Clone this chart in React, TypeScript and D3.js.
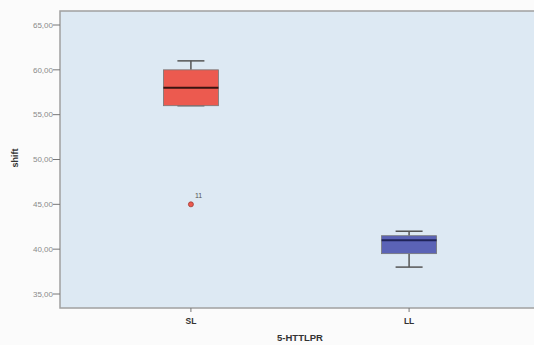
import React from "react";
import * as d3 from "d3";

// Group labels along the x axis
const categories = ["SL", "LL"];
// Box statistics per group: lower whisker, Q1, median, Q3, upper whisker
const whiskerLow = [56, 38];
const q1 = [56, 39.5];
const median = [58, 41];
const q3 = [60, 41.5];
const whiskerHigh = [61, 42];
// Outlying cases: group index, value, case label
const outlierGroup = [0];
const outlierValue = [45];
const outlierLabel = ["11"];
// Y axis tick values
const yTicks = [35, 40, 45, 50, 55, 60, 65];

const boxFill = ["#ec5a4f", "#5b63b6"];
const medianStroke = ["#3a1410", "#1f2358"];

const W = 534;
const H = 345;
const left = 60;
const right = 540;
const top = 11;
const bottom = 308;

export default function App() {
  const x = d3.scalePoint<string>().domain(categories).range([left, right]).padding(0.6);
  const y = d3.scaleLinear().domain([35, 65]).range([294, 25]);
  const boxW = 55;
  const capW = 27;
  const fmt = (v: number) => v.toFixed(2).replace(".", ",");

  return (
    <svg width={W} height={H} style={{ position: "absolute", left: 0, top: 0, background: "#fbfbfb" }}
      fontFamily="Arial, 'Liberation Sans', sans-serif">
      <rect x={left} y={top} width={right - left} height={bottom - top} fill="#dde9f3" stroke="#a0a0a0" strokeWidth={1.5} />
      {yTicks.map((t) => (
        <g key={t}>
          <line x1={left - 7} x2={left} y1={y(t)} y2={y(t)} stroke="#777" strokeWidth={1} />
          <text x={left - 7} y={y(t)} dy="0.35em" textAnchor="end" fontSize={8} fill="#8a8a8a">{fmt(t)}</text>
        </g>
      ))}
      <text transform={`translate(18,158) rotate(-90)`} textAnchor="middle" fontSize={9} fontWeight="bold" fill="#333">shift</text>
      {categories.map((c, i) => {
        const cx = x(c)!;
        return (
          <g key={c}>
            <line x1={cx} x2={cx} y1={bottom} y2={bottom + 4} stroke="#777" />
            <text x={cx} y={321} dy="0.35em" textAnchor="middle" fontSize={8.5} fontWeight="bold" fill="#333">{c}</text>
            <line x1={cx} x2={cx} y1={y(whiskerHigh[i])} y2={y(q3[i])} stroke="#555" strokeWidth={1.5} />
            <line x1={cx} x2={cx} y1={y(q1[i])} y2={y(whiskerLow[i])} stroke="#555" strokeWidth={1.5} />
            <line x1={cx - capW / 2} x2={cx + capW / 2} y1={y(whiskerHigh[i])} y2={y(whiskerHigh[i])} stroke="#555" strokeWidth={1.5} />
            <line x1={cx - capW / 2} x2={cx + capW / 2} y1={y(whiskerLow[i])} y2={y(whiskerLow[i])} stroke="#555" strokeWidth={1.5} />
            <rect x={cx - boxW / 2} y={y(q3[i])} width={boxW} height={y(q1[i]) - y(q3[i])} fill={boxFill[i]} stroke="#777" strokeWidth={0.8} />
            <line x1={cx - boxW / 2} x2={cx + boxW / 2} y1={y(median[i])} y2={y(median[i])} stroke={medianStroke[i]} strokeWidth={2} />
          </g>
        );
      })}
      {outlierValue.map((v, k) => {
        const cx = x(categories[outlierGroup[k]])!;
        return (
          <g key={k}>
            <circle cx={cx} cy={y(v)} r={2.5} fill={boxFill[outlierGroup[k]]} stroke="#a03a34" strokeWidth={0.8} />
            <text x={cx + 4} y={y(v) - 6} fontSize={7} fill="#555">{outlierLabel[k]}</text>
          </g>
        );
      })}
      <text x={(x(categories[0])! + x(categories[1])!) / 2} y={338} dy="0.35em" textAnchor="middle" fontSize={9.5} fontWeight="bold" fill="#333">5-HTTLPR</text>
    </svg>
  );
}
